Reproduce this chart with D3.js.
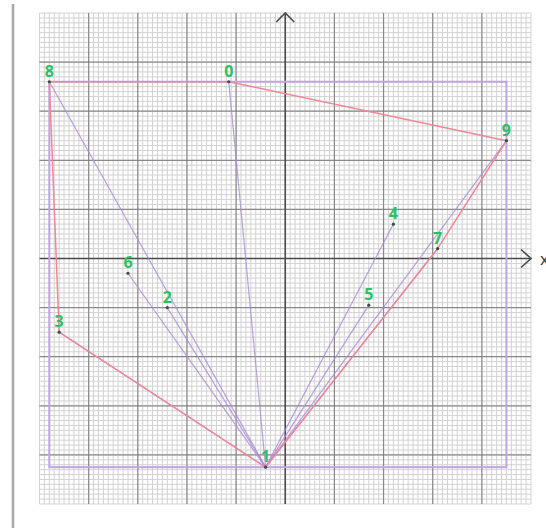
<!DOCTYPE html>
<html>
<head>
<meta charset="utf-8">
<style>
body {
  margin: 0;
  font-family: "Open Sans", "DejaVu Sans", sans-serif;
  background: #fff;
}
svg {
  display: block;
}
.minor line { stroke: #d2d2d2; stroke-width: 1px; }
.major line { stroke: #7c7c7c; stroke-width: 1.2px; opacity: .85; }
.axis { stroke: #4a4a4a; stroke-width: 1.6px; fill: none; }
.box { stroke: #c2a3e2; stroke-width: 2px; fill: none; }
.spoke { stroke: #a98bd6; stroke-width: 1.2px; opacity: .8; }
.hull { stroke: #ef8795; stroke-width: 1.5px; fill: none; }
.dot { fill: #3b4a4a; }
.label { fill: #2cc063; font-weight: bold; font-size: 16px; text-anchor: middle; }
</style>
<script src="https://cdn.jsdelivr.net/npm/d3@7"></script>
</head>
<body>
<svg width="546" height="528"></svg>
<script>
// point ids and coordinates (10 units per big square)
var ids = ["0", "1", "2", "3", "4", "5", "6", "7", "8", "9"];
var xs  = [-11.5, -4, -24, -46, 22, 17, -32, 31, -48, 45];
var ys  = [36, -42.5, -10, -15, 7, -9.5, -3, 2, 36, 24];

var minorTicks = d3.range(-50, 51, 1);
var majorTicks = [-40, -30, -20, -10, 10, 20, 30, 40];

var svg = d3.select("svg");

var x = d3.scaleLinear().domain([-50, 50]).range([39.5, 531]);
var y = d3.scaleLinear().domain([-50, 50]).range([504, 13]);

var points = ids.map(function(id, i) { return {id: id, x: xs[i], y: ys[i]}; });

// left gray rule
svg.append("line")
  .attr("x1", 13).attr("x2", 13)
  .attr("y1", 4).attr("y2", 528)
  .style("stroke", "#a9a9a9")
  .style("stroke-width", 2.5);

/* ------- GRAPH PAPER -------*/
var minor = svg.append("g").attr("class", "minor");
minor.selectAll("line.v").data(minorTicks).enter().append("line")
  .attr("class", "v")
  .attr("x1", x).attr("x2", x)
  .attr("y1", y(50)).attr("y2", y(-50));
minor.selectAll("line.h").data(minorTicks).enter().append("line")
  .attr("class", "h")
  .attr("y1", y).attr("y2", y)
  .attr("x1", x(-50)).attr("x2", x(50));

var major = svg.append("g").attr("class", "major");
major.selectAll("line.v").data(majorTicks).enter().append("line")
  .attr("class", "v")
  .attr("x1", x).attr("x2", x)
  .attr("y1", y(50)).attr("y2", y(-50));
major.selectAll("line.h").data(majorTicks).enter().append("line")
  .attr("class", "h")
  .attr("y1", y).attr("y2", y)
  .attr("x1", x(-50)).attr("x2", x(50));

/* ------- AXES WITH ARROWS -------*/
var line = d3.line();
svg.append("path").attr("class", "axis")
  .attr("d", line([[x(-50), y(0)], [x(50), y(0)]]));
svg.append("path").attr("class", "axis")
  .attr("d", line([[x(0), y(-50)], [x(0), y(50)]]));
svg.append("path").attr("class", "axis")
  .attr("d", line([[x(50) - 10, y(0) - 9], [x(50), y(0)], [x(50) - 10, y(0) + 9]]));
svg.append("path").attr("class", "axis")
  .attr("d", line([[x(0) - 9, y(50) + 9], [x(0), y(50)], [x(0) + 9, y(50) + 9]]));
svg.append("text")
  .attr("x", x(50) + 9).attr("y", y(0) + 6)
  .style("font-size", "17px")
  .style("fill", "#333")
  .text("x");

/* ------- BOUNDING BOX -------*/
var x0 = d3.min(points, function(d) { return d.x; }),
    x1 = d3.max(points, function(d) { return d.x; }),
    y0 = d3.min(points, function(d) { return d.y; }),
    y1 = d3.max(points, function(d) { return d.y; });
svg.append("rect").attr("class", "box")
  .attr("x", x(x0)).attr("y", y(y1))
  .attr("width", x(x1) - x(x0))
  .attr("height", y(y0) - y(y1));

/* ------- SPOKES FROM THE LOWEST POINT -------*/
var pivot = d3.least(points, function(d) { return d.y; });
svg.append("g").selectAll("line").data(points.filter(function(d) { return d !== pivot; }))
  .enter().append("line").attr("class", "spoke")
  .attr("x1", x(pivot.x)).attr("y1", y(pivot.y))
  .attr("x2", function(d) { return x(d.x); })
  .attr("y2", function(d) { return y(d.y); });

/* ------- HULL -------*/
var hull = d3.polygonHull(points.map(function(d) { return [x(d.x), y(d.y)]; }));
svg.append("path").attr("class", "hull")
  .attr("d", "M" + hull.join("L") + "Z");

/* ------- POINTS AND LABELS -------*/
svg.append("g").selectAll("circle").data(points).enter().append("circle")
  .attr("class", "dot")
  .attr("r", 1.6)
  .attr("cx", function(d) { return x(d.x); })
  .attr("cy", function(d) { return y(d.y); });

svg.append("g").selectAll("text").data(points).enter().append("text")
  .attr("class", "label")
  .attr("x", function(d) { return x(d.x); })
  .attr("y", function(d) { return y(d.y) - 5; })
  .text(function(d) { return d.id; });
</script>
</body>
</html>
